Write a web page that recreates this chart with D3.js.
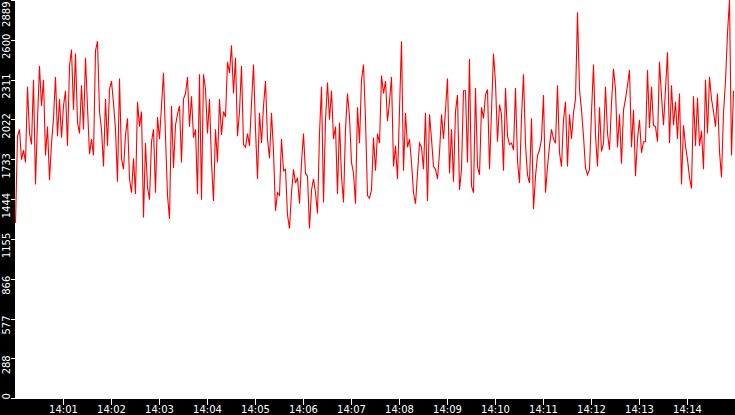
<!DOCTYPE html>
<html>
<head>
<meta charset="utf-8">
<script src="https://cdn.jsdelivr.net/npm/d3@7"></script>
<style>
  body { margin: 0; background: #fff; }
  svg { display: block; }
</style>
</head>
<body>
<div id="chart"></div>
<script>
// sample every 2.5 s from 14:00:00
const startTime = "14:00:00";
const stepSeconds = 2.5;

const values = [
  1270, 1900, 1950, 1730, 1800, 1710, 2260, 1920, 1840, 2310, 1550, 2020, 2410, 2120, 2310,
  1760, 1970, 1580, 1850, 2030, 2330, 1900, 2170, 1890, 2120, 2230, 1830, 2410, 2530, 2090,
  2500, 2000, 1920, 2270, 1950, 2470, 2110, 1770, 1880, 1760, 2520, 2590, 2080, 1950, 1680,
  2170, 1830, 2240, 2300, 2140, 1950, 1570, 2320, 1740, 1660, 1910, 2030, 1590, 1490, 1740,
  1480, 2150, 1970, 2080, 1310, 1850, 1530, 1440, 1860, 1950, 1490, 2040, 1880, 2120, 2360,
  1900, 1470, 1300, 2120, 1670, 1980, 2060, 2120, 1710, 2170, 2210, 2330, 1970, 2190, 1890,
  1950, 1480, 2350, 1440, 2350, 2240, 1920, 2170, 1710, 1430, 1950, 1710, 2170, 1910, 2080,
  2040, 2440, 2360, 2560, 2210, 2470, 1900, 2080, 2410, 1840, 1820, 1920, 1830, 2140, 2420,
  1950, 1590, 2070, 1850, 2120, 2300, 1880, 1740, 2070, 1790, 1360, 1490, 1470, 1880, 1650,
  1660, 1330, 1230, 1490, 1660, 1560, 1600, 1410, 1710, 1920, 1630, 1610, 1230, 1510, 1590,
  1490, 1340, 1920, 2260, 1420, 2020, 2290, 2020, 2230, 1880, 1970, 1480, 2000, 1610, 1420,
  1950, 2210, 2040, 1710, 1630, 1410, 2110, 1850, 2310, 2420, 2020, 1470, 1450, 1510, 1890,
  1650, 1920, 1850, 2340, 2210, 2300, 2010, 2150, 2330, 1680, 1830, 1590, 2090, 2590, 1650,
  2070, 1820, 1880, 1710, 1490, 1410, 1630, 1850, 1820, 1660, 2070, 1430, 2060, 1880, 1680,
  1660, 1590, 1780, 2060, 1880, 2090, 2320, 1630, 1950, 1570, 2080, 2200, 1510, 1660, 2230,
  2230, 1710, 2460, 1540, 1490, 2250, 1680, 1620, 2110, 2030, 2200, 2240, 1660, 2080, 2500,
  2290, 1860, 2130, 2060, 1650, 2250, 1900, 1840, 1850, 1800, 2250, 1720, 1560, 2040, 2350,
  1840, 1620, 1560, 2030, 1370, 1610, 1760, 1800, 1880, 2200, 1490, 1680, 1830, 1950, 1880,
  1850, 2270, 1780, 1680, 2020, 2150, 1680, 2060, 1880, 2070, 2170, 2800, 2240, 2090, 1900,
  1670, 1620, 1660, 2070, 2420, 1910, 1680, 2110, 1790, 1850, 2260, 1920, 1800, 2140, 2390,
  2240, 1820, 2060, 1700, 2090, 2170, 2270, 2380, 1820, 2090, 1610, 1880, 2020, 1780, 1860,
  1860, 2380, 1960, 2260, 1980, 1970, 1860, 2440, 2190, 1980, 2240, 2510, 1850, 2270, 1980,
  2150, 1880, 2210, 1550, 1980, 1830, 1730, 1600, 1520, 2190, 1830, 2180, 1830, 1940, 1660,
  2310, 1920, 2330, 2170, 2080, 1970, 2210, 1790, 1600, 2070, 2300, 2650, 2889, 1760, 2230
];

const yTickLabels = [0, 288, 577, 866, 1155, 1444, 1733, 2022, 2311, 2600, 2889];
const xTickLabels = ["14:01", "14:02", "14:03", "14:04", "14:05", "14:06", "14:07",
  "14:08", "14:09", "14:10", "14:11", "14:12", "14:13", "14:14"];

const width = 735;
const height = 415;
const left = 15;      // black y-axis strip
const bottom = 399;   // top of black x-axis strip

const parseClock = d3.timeParse("%H:%M:%S");
const parseTick = d3.timeParse("%H:%M");
const t0 = parseClock(startTime);
const t1 = d3.timeMinute.offset(t0, 15);

const data = values.map((v, i) => ({
  t: new Date(t0.getTime() + i * stepSeconds * 1000),
  v: v,
}));

const svg = d3.select("#chart").append("svg")
  .attr("width", width)
  .attr("height", height);

svg.append("rect").attr("width", width).attr("height", height).attr("fill", "#fff");

const x = d3.scaleTime().domain([t0, t1]).range([left, width]);
const y = d3.scaleLinear().domain([0, yTickLabels[yTickLabels.length - 1]]).range([398, 0]);

// the series
const line = d3.line()
  .x((d) => x(d.t) + 0.5)
  .y((d) => y(d.v));

svg.append("path")
  .datum(data)
  .attr("d", line)
  .attr("fill", "none")
  .attr("stroke", "#ff0000")
  .attr("stroke-width", 1.1)
  .attr("stroke-linejoin", "miter");

// black axis strips
svg.append("rect").attr("x", 0).attr("y", 0).attr("width", left).attr("height", height).attr("fill", "#000");
svg.append("rect").attr("x", 0).attr("y", bottom).attr("width", width).attr("height", height - bottom).attr("fill", "#000");

// y axis
const yAxis = svg.append("g")
  .attr("transform", `translate(${left},0)`)
  .call(d3.axisLeft(y).tickValues(yTickLabels).tickSize(4).tickFormat((d) => String(d)));

yAxis.select(".domain").remove();
yAxis.selectAll(".tick line").attr("stroke", "#fff").attr("shape-rendering", "crispEdges");
yAxis.selectAll(".tick text")
  .attr("fill", "#fff")
  .attr("font-family", "DejaVu Sans, sans-serif")
  .attr("font-size", 10)
  .attr("text-anchor", "middle")
  .attr("transform", "rotate(-90)")
  .attr("dy", null)
  .attr("y", -5)
  .attr("x", function (d) {
    // centre a little below the tick, but keep inside the plot
    const half = this.getComputedTextLength() / 2;
    const ty = y(d);
    let c = ty + 6;
    c = Math.min(c, bottom - half);
    c = Math.max(c, 1 + half);
    return -(c - ty);
  });

// x axis
const xAxis = svg.append("g")
  .attr("transform", `translate(0,${bottom})`)
  .call(d3.axisBottom(x)
    .tickValues(xTickLabels.map((s) => parseTick(s)))
    .tickSize(6)
    .tickFormat(d3.timeFormat("%H:%M")));

xAxis.select(".domain").remove();
xAxis.selectAll(".tick line").attr("stroke", "#fff").attr("shape-rendering", "crispEdges");
xAxis.selectAll(".tick text")
  .attr("fill", "#fff")
  .attr("font-family", "DejaVu Sans, sans-serif")
  .attr("font-size", 10)
  .attr("y", 7);
</script>
</body>
</html>
